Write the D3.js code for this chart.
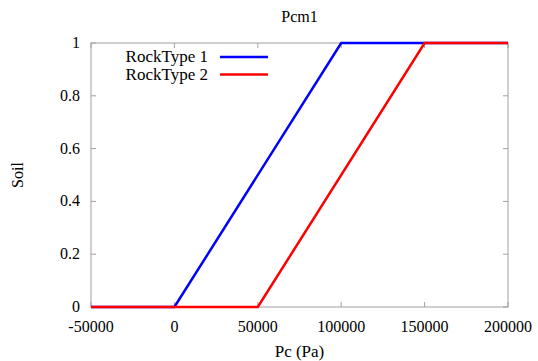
<!DOCTYPE html>
<html>
<head>
<meta charset="utf-8">
<script src="https://cdn.jsdelivr.net/npm/d3@7"></script>
<style>
body { margin: 0; background: #fff; }
</style>
</head>
<body>
<div id="chart"></div>
<script>
var svgWidth = 538;
var svgHeight = 361;
var margin = {top: 43, right: 30, bottom: 54, left: 91};
var chartWidth = 508 - margin.left;
var chartHeight = 307 - margin.top;
var fontFamily = "'Liberation Serif', 'Times New Roman', serif";

// data
var rock1X = [-50000, 0, 100000, 200000];
var rock1Y = [0, 0, 1, 1];
var rock2X = [-50000, 50000, 150000, 200000];
var rock2Y = [0, 0, 1, 1];
var seriesNames = ["RockType 1", "RockType 2"];
var seriesColors = ["#0000ff", "#ff0000"];
var xTicks = [-50000, 0, 50000, 100000, 150000, 200000];
var yTicks = [0, 0.2, 0.4, 0.6, 0.8, 1];

var svg = d3.select('#chart').append('svg')
	.attr('width', svgWidth)
	.attr('height', svgHeight)
	.attr('font-family', fontFamily);
var chartGroup = svg.append('g')
	.attr('transform', `translate(${margin.left}, ${margin.top})`);

var xScale = d3.scaleLinear().domain([-50000, 200000]).range([0, chartWidth]);
var yScale = d3.scaleLinear().domain([0, 1]).range([chartHeight, 0]);

// frame
chartGroup.append('rect')
	.attr('x', 0).attr('y', 0)
	.attr('width', chartWidth).attr('height', chartHeight)
	.attr('fill', 'none').attr('stroke', '#a0a0a0').attr('stroke-width', 1);

// ticks, mirrored on all four sides
var tickLen = 5;
var tickGroup = chartGroup.append('g').attr('stroke', '#a0a0a0').attr('stroke-width', 1);
xTicks.forEach(function(t) {
	var x = xScale(t);
	tickGroup.append('line').attr('x1', x).attr('x2', x).attr('y1', chartHeight).attr('y2', chartHeight - tickLen);
	tickGroup.append('line').attr('x1', x).attr('x2', x).attr('y1', 0).attr('y2', tickLen);
});
yTicks.forEach(function(t) {
	var y = yScale(t);
	tickGroup.append('line').attr('x1', 0).attr('x2', tickLen).attr('y1', y).attr('y2', y);
	tickGroup.append('line').attr('x1', chartWidth).attr('x2', chartWidth - tickLen).attr('y1', y).attr('y2', y);
});

// tick labels
chartGroup.append('g').selectAll('text')
	.data(xTicks).enter().append('text')
	.attr('x', d => xScale(d))
	.attr('y', chartHeight + 25)
	.attr('text-anchor', 'middle')
	.attr('font-size', '16px')
	.text(d => d);

chartGroup.append('g').selectAll('text')
	.data(yTicks).enter().append('text')
	.attr('x', -11)
	.attr('y', d => yScale(d) + 5)
	.attr('text-anchor', 'end')
	.attr('font-size', '16px')
	.text(d => d);

// lines
var line = d3.line()
	.x(d => xScale(d[0]))
	.y(d => yScale(d[1]));

var series = [
	rock1X.map((x, i) => [x, rock1Y[i]]),
	rock2X.map((x, i) => [x, rock2Y[i]])
];
series.forEach(function(pts, i) {
	chartGroup.append('path')
		.datum(pts)
		.attr('d', line)
		.attr('fill', 'none')
		.attr('stroke', seriesColors[i])
		.attr('stroke-width', 2.5);
});

// legend
seriesNames.forEach(function(name, i) {
	var y = 57 + i * 17.5;
	svg.append('text')
		.attr('x', 208).attr('y', y + 5)
		.attr('text-anchor', 'end')
		.attr('font-size', '17px')
		.text(name);
	svg.append('line')
		.attr('x1', 220).attr('x2', 268)
		.attr('y1', y).attr('y2', y)
		.attr('stroke', seriesColors[i]).attr('stroke-width', 2.5);
});

// title and axis labels
svg.append('text')
	.attr('x', margin.left + chartWidth / 2).attr('y', 22)
	.attr('text-anchor', 'middle').attr('font-size', '16px')
	.text('Pcm1');

svg.append('text')
	.attr('x', margin.left + chartWidth / 2).attr('y', 357)
	.attr('text-anchor', 'middle').attr('font-size', '17px')
	.text('Pc (Pa)');

svg.append('text')
	.attr('transform', 'translate(23, 175) rotate(-90)')
	.attr('text-anchor', 'middle').attr('font-size', '16px')
	.text('Soil');
</script>
</body>
</html>
